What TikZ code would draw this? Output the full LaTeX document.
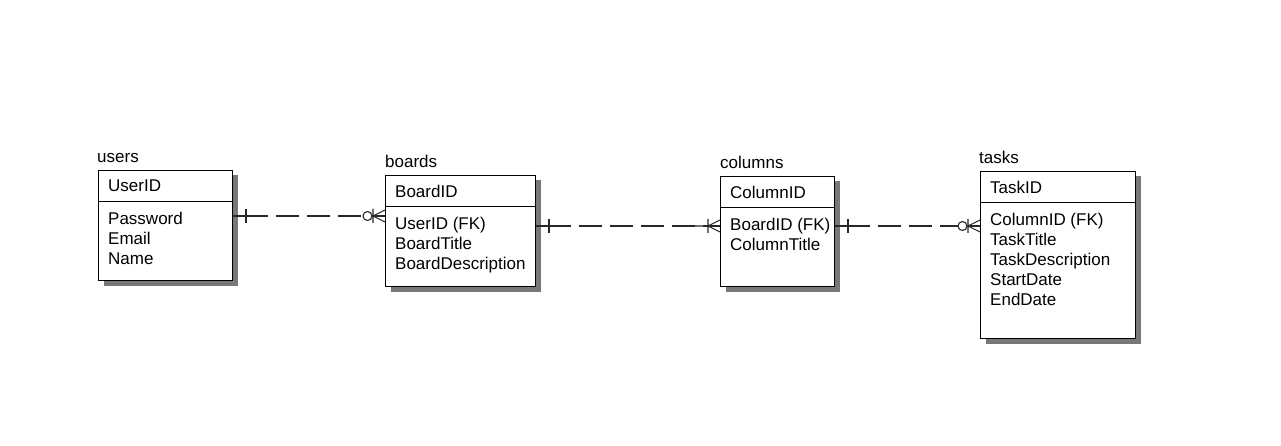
\documentclass[tikz,border=0pt]{standalone}
\usepackage{fontspec}
\setmainfont{Liberation Sans}
\usetikzlibrary{calc,positioning,shadows}
\definecolor{erline}{RGB}{40,40,40}
\definecolor{ershadow}{RGB}{120,120,120}

\tikzset{
  entity/.style={draw,line width=1pt,fill=white,anchor=north west,inner sep=0pt,
    drop shadow={shadow xshift=5pt,shadow yshift=-5pt,fill=ershadow,opacity=1}},
  tname/.style={anchor=base west,inner sep=0pt},
  attr/.style={anchor=north west,inner sep=0pt,align=left},
  conn/.style={draw=erline,line width=1.1pt},
  rel/.style={conn,dash pattern=on 23pt off 8pt,dash phase=19pt},
  onebar/.pic={\draw[conn] (0,0) -- (35,0) (13,-7) -- (13,7);},
  onemany/.pic={\draw[conn] (-33,0) -- (0,0) (-12,0) -- (0,-6) (-12,0) -- (0,6) (-12,-7) -- (-12,7);},
  zeromany/.pic={\draw[conn] (-13,0) -- (0,0) (-12,0) -- (0,-6) (-12,0) -- (0,6) (-12,-7) -- (-12,7);
    \draw[conn,fill=white] (-17.5,0) circle (4.5);}
}

\begin{document}
\begin{tikzpicture}[x=1pt,y=-1pt,font=\fontsize{17}{20}\selectfont]
  \useasboundingbox[fill=white] (0,0) rectangle (1281,446);
  % entities
  \node[entity,minimum width=134pt,minimum height=110pt] (users) at (98,170) {};
  \node[tname] at ($(users.north west)+(-1,-7)$) {users};
  \draw[line width=1pt] ($(users.north west)+(0,32)$) -- ($(users.north east)+(0,32)$);
  \node[attr] (usersk) at (108,180) {UserID};
  \node[attr] (usersa) at (108,212) {Password\\Email\\Name};

  \node[entity,minimum width=150pt,minimum height=111pt] (boards) at (385,175) {};
  \node[tname] at ($(boards.north west)+(0,-7)$) {boards};
  \draw[line width=1pt] ($(boards.north west)+(0,32)$) -- ($(boards.north east)+(0,32)$);
  \node[attr] (boardsk) at (395,185) {BoardID};
  \node[attr] (boardsa) at (395,217) {UserID (FK)\\BoardTitle\\BoardDescription};

  \node[entity,minimum width=114pt,minimum height=110pt] (cols) at (720,176) {};
  \node[tname] at ($(cols.north west)+(0,-7)$) {columns};
  \draw[line width=1pt] ($(cols.north west)+(0,32)$) -- ($(cols.north east)+(0,32)$);
  \node[attr] (colsk) at (730,186) {ColumnID};
  \node[attr] (colsa) at (730,218) {BoardID (FK)\\ColumnTitle};

  \node[entity,minimum width=155pt,minimum height=167pt] (tasks) at (980,171) {};
  \node[tname] at ($(tasks.north west)+(-1,-7)$) {tasks};
  \draw[line width=1pt] ($(tasks.north west)+(0,32)$) -- ($(tasks.north east)+(0,32)$);
  \node[attr] (tasksk) at (990,181) {TaskID};
  \node[attr] (tasksa) at (990,213) {ColumnID (FK)\\TaskTitle\\TaskDescription\\StartDate\\EndDate};

  % relationships
  \coordinate (ub) at ($(users.north east)+(0,46)$);
  \coordinate (bu) at ($(boards.north west)+(0,41)$);
  \coordinate (bc) at ($(boards.north east)+(0,51)$);
  \coordinate (cb) at ($(cols.north west)+(0,50)$);
  \coordinate (ct) at ($(cols.north east)+(0,50)$);
  \coordinate (tc) at ($(tasks.north west)+(0,55)$);
  \draw[rel] (ub) -- (bu);
  \draw[rel] (bc) -- (cb);
  \draw[rel] (ct) -- (tc);
  \pic at (ub) {onebar};
  \pic at (bu) {zeromany};
  \pic at (bc) {onebar};
  \pic at (cb) {onemany};
  \pic at (ct) {onebar};
  \pic at (tc) {zeromany};
\end{tikzpicture}
\end{document}
